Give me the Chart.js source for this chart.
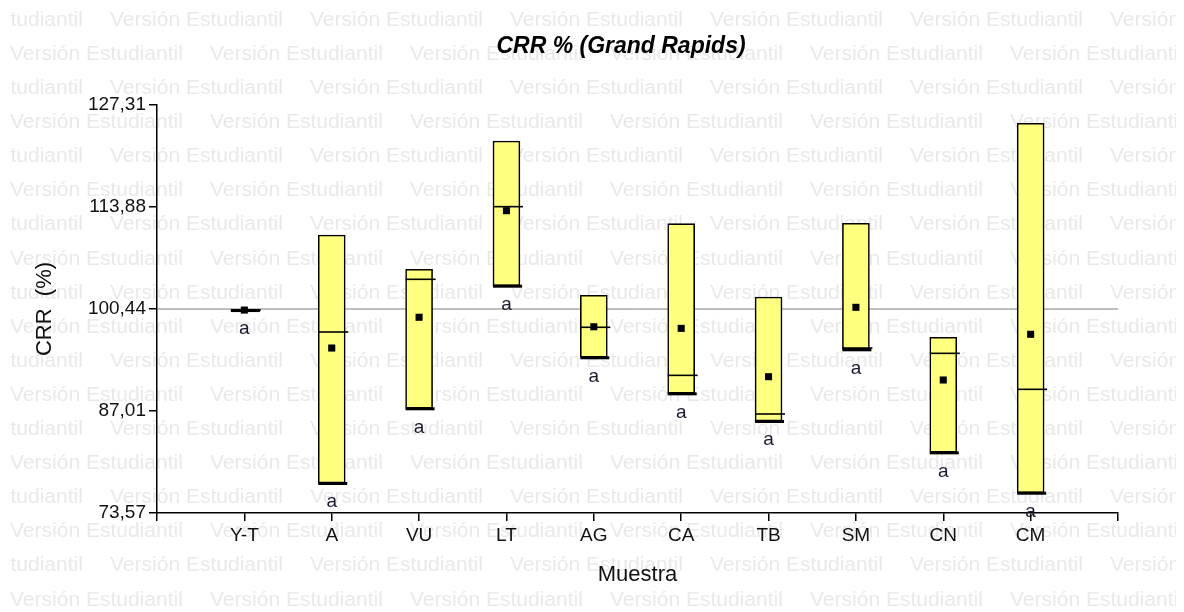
<!DOCTYPE html>
<html>
<head>
<meta charset="utf-8">
<script src="https://cdn.jsdelivr.net/npm/chart.js@4.4.1/dist/chart.umd.min.js"></script>
<style>
  html, body { margin: 0; padding: 0; background: #fff; }
  #wrap { width: 1184px; height: 612px; position: relative; }
</style>
</head>
<body>
<div id="wrap"><canvas id="c"></canvas></div>
<script>
// ---- data ----
const categories   = ['Y-T', 'A', 'VU', 'LT', 'AG', 'CA', 'TB', 'SM', 'CN', 'CM'];
const boxMin       = [100.30, 77.52, 87.36, 103.51, 94.08, 89.33, 85.69, 95.13, 81.56, 76.24];
const boxMax       = [100.30, 110.19, 105.67, 122.57, 102.24, 111.68, 102.02, 111.73, 96.71, 124.90];
const medians      = [100.30, 97.41, 104.35, 113.92, 98.03, 91.70, 86.61, 95.30, 94.60, 89.86];
const means        = [100.30, 95.30, 99.35, 113.39, 98.10, 97.89, 91.52, 100.66, 91.09, 97.11];
const groupLetters = ['a', 'a', 'a', 'a', 'a', 'a', 'a', 'a', 'a', 'a'];
const yMin = 73.57, yMax = 127.31;
const yTickLabels  = ['73,57', '87,01', '100,44', '113,88', '127,31'];
const refValue     = 100.44;
const chartTitle   = 'CRR % (Grand Rapids)';
const watermark    = 'Versión Estudiantil';

const FONT = '"Liberation Sans", Arial, sans-serif';

const watermarkPlugin = {
  id: 'watermark',
  beforeDraw(chart) {
    const ctx = chart.ctx;
    ctx.save();
    ctx.fillStyle = '#fff';
    ctx.fillRect(0, 0, chart.width, chart.height);
    ctx.beginPath();
    ctx.rect(10, 0, 1166, chart.height);
    ctx.clip();
    // fit font so the phrase is ~173px wide
    let size = 17;
    ctx.font = size + 'px ' + FONT;
    const w = ctx.measureText(watermark).width;
    size = size * 173 / w;
    ctx.font = size + 'px ' + FONT;
    ctx.fillStyle = '#e9e9e9';
    ctx.textBaseline = 'middle';
    ctx.textAlign = 'left';
    for (let k = 0; k < 18; k++) {
      const y = 20 + k * 34.1;
      const x0 = (k % 2 === 0) ? -90 : 10;
      for (let x = x0; x < 1200; x += 200) ctx.fillText(watermark, x, y);
    }
    ctx.restore();
  },
  afterDraw(chart) {
    const ctx = chart.ctx;
    ctx.save();
    ctx.font = 'italic bold 23px ' + FONT;
    ctx.fillStyle = '#000';
    ctx.textAlign = 'center';
    ctx.textBaseline = 'middle';
    ctx.fillText(chartTitle, 621, 47);
    ctx.restore();
  }
};

const boxPlugin = {
  id: 'boxExtras',
  afterDatasetDraw(chart, args) {
    if (args.index !== 1) return;
    const ctx = chart.ctx, xs = chart.scales.x, ys = chart.scales.y;
    const half = 13.5;
    ctx.save();
    ctx.strokeStyle = '#000';
    for (let i = 0; i < categories.length; i++) {
      const cx = xs.getPixelForValue(i + 1);
      // median line
      const ym = ys.getPixelForValue(medians[i]);
      ctx.lineWidth = 1.6;
      ctx.beginPath();
      ctx.moveTo(cx - half, ym);
      ctx.lineTo(cx + half + 3, ym);
      ctx.stroke();
      // heavy bottom edge
      const yb = ys.getPixelForValue(boxMin[i]);
      ctx.lineWidth = 3;
      ctx.beginPath();
      ctx.moveTo(cx - half, yb + 0.5);
      ctx.lineTo(cx + half + 2, yb + 0.5);
      ctx.stroke();
    }
    ctx.restore();
  },
  afterDatasetsDraw(chart) {
    const ctx = chart.ctx, xs = chart.scales.x, ys = chart.scales.y;
    ctx.save();
    ctx.font = '19px ' + FONT;
    ctx.fillStyle = '#1a1a2e';
    ctx.textAlign = 'center';
    ctx.textBaseline = 'middle';
    for (let i = 0; i < categories.length; i++) {
      const cx = xs.getPixelForValue(i + 1);
      const yb = ys.getPixelForValue(boxMin[i]);
      ctx.fillText(groupLetters[i], cx, yb + 19);
    }
    ctx.restore();
  }
};

const ctx = document.getElementById('c').getContext('2d');
new Chart(ctx, {
  type: 'bar',
  data: {
    datasets: [
      {
        type: 'line',
        data: [{ x: 0, y: refValue }, { x: categories.length + 1, y: refValue }],
        borderColor: '#7f7f7f',
        borderWidth: 1,
        pointRadius: 0,
        order: 3
      },
      {
        type: 'bar',
        data: categories.map((c, i) => ({ x: i + 1, y: [boxMin[i], boxMax[i]] })),
        backgroundColor: '#ffff80',
        borderColor: '#000',
        borderWidth: 1.6,
        borderSkipped: false,
        barThickness: 27,
        order: 2
      },
      {
        type: 'scatter',
        data: categories.map((c, i) => ({ x: i + 1, y: means[i] })),
        pointStyle: 'rect',
        pointRadius: 5,
        pointBackgroundColor: '#000',
        pointBorderColor: '#000',
        pointBorderWidth: 0,
        order: 0
      }
    ]
  },
  options: {
    responsive: true,
    maintainAspectRatio: false,
    animation: false,
    events: [],
    layout: { padding: { left: 0, right: 66, top: 105, bottom: 0 } },
    plugins: { legend: { display: false }, tooltip: { enabled: false }, title: { display: false } },
    scales: {
      x: {
        type: 'linear',
        min: 0,
        max: categories.length + 1,
        offset: false,
        afterBuildTicks(scale) {
          scale.ticks = [];
          for (let v = 0; v <= categories.length + 1; v++) scale.ticks.push({ value: v });
        },
        afterFit(scale) { scale.height = 99; },
        ticks: {
          autoSkip: false,
          maxRotation: 0,
          padding: 3,
          color: '#111',
          font: { family: FONT, size: 19 },
          callback: (v) => categories[v - 1] ?? ''
        },
        grid: { display: true, drawOnChartArea: false, drawTicks: true, tickLength: 8, color: '#000', lineWidth: 1.5, offset: false },
        border: { display: true, color: '#000', width: 1.5 },
        title: { display: true, text: 'Muestra', color: '#111', font: { family: FONT, size: 22 }, padding: { top: 0, bottom: 24 } }
      },
      y: {
        type: 'linear',
        min: yMin,
        max: yMax,
        afterBuildTicks(scale) {
          scale.ticks = yTickLabels.map((l, i) => ({ value: yMin + i * (yMax - yMin) / (yTickLabels.length - 1) }));
        },
        afterFit(scale) { scale.width = 157; },
        ticks: {
          padding: 3,
          color: '#111',
          font: { family: FONT, size: 19 },
          callback: (v, i) => yTickLabels[i]
        },
        grid: { display: true, drawOnChartArea: false, drawTicks: true, tickLength: 8, color: '#000', lineWidth: 1.5 },
        border: { display: true, color: '#000', width: 1.5 },
        title: { display: true, text: 'CRR  (%)', color: '#111', font: { family: FONT, size: 22 }, padding: { top: 32, bottom: 0 } }
      }
    }
  },
  plugins: [watermarkPlugin, boxPlugin]
});
</script>
</body>
</html>
